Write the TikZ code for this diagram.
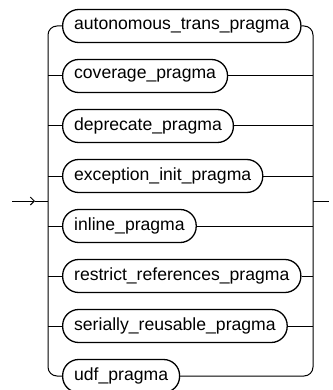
\documentclass[tikz,border=0pt]{standalone}
\usepackage{fontspec}
\setmainfont{Liberation Sans}
\usetikzlibrary{arrows.meta}
\tikzset{
  >={Straight Barb[length=4pt,width=8pt]},
  pill/.style={draw,line width=1.3pt,rounded corners=16pt,minimum height=33pt,
    inner xsep=11.5pt,inner ysep=0pt,anchor=west,font=\fontsize{17.6}{20}\selectfont},
  rail/.style={line width=1pt}
}
\begin{document}
\begin{tikzpicture}[x=1pt,y=-1pt]
  \useasboundingbox (0,0) rectangle (332,390);

  % --- PRAGMA CHOICES ---
  \foreach \txt [count=\i] in {autonomous\_trans\_pragma, coverage\_pragma,
      deprecate\_pragma, exception\_init\_pragma, inline\_pragma,
      restrict\_references\_pragma, serially\_reusable\_pragma, udf\_pragma} {
    \node[pill] (P\i) at (62,{26+50*(\i-1)}) {\txt};
  }

  % --- ENTRY AND EXIT ---
  \coordinate (in) at (12,201);
  \coordinate (in-tip) at (35,201);
  \coordinate (split) at (48,201);
  \coordinate (join) at (313,201);
  \coordinate (out) at (329,201);
  \draw[rail,->] (in) -- (in-tip);
  \draw[rail] (in-tip) -- (split);
  \draw[rail] (join) -- (out);

  % --- LEFT RAILS ---
  \draw[rail,rounded corners=9pt] (P1.west) -| (split |- P8.west) -- (P8.west);
  \foreach \i in {2,...,7} {
    \draw[rail] (split |- P\i.west) -- (P\i.west);
  }

  % --- RIGHT RAILS ---
  \draw[rail,rounded corners=9pt] (P1.east) -| (join |- P8.east) -- (P8.east);
  \foreach \i in {2,...,7} {
    \draw[rail] (P\i.east) -- (join |- P\i.east);
  }
\end{tikzpicture}
\end{document}
